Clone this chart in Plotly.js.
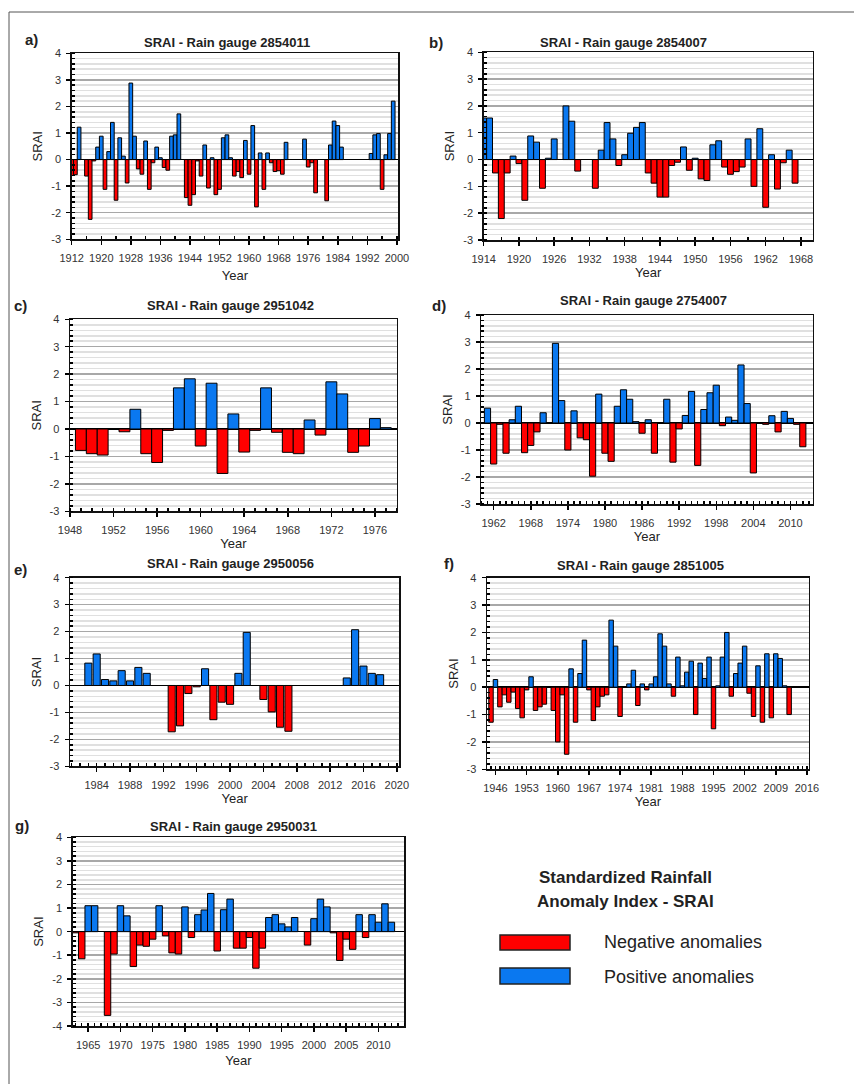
<!DOCTYPE html>
<html><head><meta charset="utf-8">
<script src="https://cdn.plot.ly/plotly-3.0.1.min.js"></script>
<style>html,body{margin:0;padding:0;background:#fff;}#chart{width:854px;height:1084px;}</style>
</head><body><div id="chart"></div>
<script>
// ---------------- DATA ----------------
const gauges = ['2854011','2854007','2951042','2754007','2950056','2851005','2950031'];
const panelLetters = ['a)','b)','c)','d)','e)','f)','g)'];

const yearsA = [1912,1913,1914,1916,1917,1918,1919,1920,1921,1922,1923,1924,1925,1926,1927,1928,1929,1930,1931,1932,1933,1934,1935,1936,1937,1938,1939,1940,1941,
  1943,1944,1945,1946,1947,1948,1949,1950,1951,1952,1953,1954,1955,1956,1957,1958,1959,1960,1961,1962,1963,1964,1965,1966,1967,1968,1969,1970,
  1975,1976,1977,1978,1981,1982,1983,1984,1985,1993,1994,1995,1996,1997,1998,1999];
const sraiA = [-0.6,-0.57,1.22,-0.62,-2.25,-0.05,0.47,0.88,-1.12,0.3,1.4,-1.53,0.82,0.13,-0.88,2.88,0.88,-0.35,-0.55,0.7,-1.12,-0.12,0.47,0.07,-0.3,-0.4,0.88,0.93,1.72,
  -1.43,-1.72,-1.32,-0.05,-0.62,0.55,-1.07,0.07,-1.32,-1.12,0.82,0.93,0.07,-0.62,-0.45,-0.68,0.72,-0.55,1.28,-1.78,0.25,-1.12,0.25,-0.12,-0.45,-0.42,-0.55,0.65,
  0.77,-0.28,-0.12,-1.25,-1.55,0.55,1.45,1.28,0.47,0.23,0.93,0.98,-1.12,0.18,0.98,2.2];

const yearsB = [1914,1915,1916,1917,1918,1919,1920,1921,1922,1923,1924,1925,1926,1928,1929,1930,
  1933,1934,1935,1936,1937,1938,1939,1940,1941,1942,1943,1944,1945,1946,1947,1948,1949,1950,1951,1952,1953,1954,1955,1956,1957,1958,1959,1960,1961,1962,1963,1964,1965,1966,1967];
const sraiB = [1.55,1.55,-0.5,-2.2,-0.5,0.13,-0.15,-1.52,0.88,0.65,-1.07,0.05,0.77,2.0,1.43,-0.43,
  -1.07,0.35,1.38,0.77,-0.22,0.18,0.98,1.2,1.38,-0.5,-0.88,-1.4,-1.4,-0.22,-0.1,0.47,-0.4,0.05,-0.72,-0.78,0.55,0.7,-0.28,-0.55,-0.45,-0.28,0.77,-1.0,1.15,-1.78,0.18,-1.1,-0.12,0.35,-0.88];

const yearsC = [1949,1950,1951,1953,1954,1955,1956,1957,1958,1959,1960,1961,1962,1963,1964,1965,1966,1967,1968,1969,1970,1971,1972,1973,1974,1975,1976,1977];
const sraiC = [-0.78,-0.9,-0.95,-0.1,0.72,-0.9,-1.22,-0.05,1.5,1.83,-0.62,1.67,-1.62,0.55,-0.84,-0.05,1.5,-0.12,-0.85,-0.9,0.33,-0.22,1.72,1.28,-0.85,-0.62,0.38,0.05];

const yearsD = [1961,1962,1963,1964,1965,1966,1967,1968,1969,1970,
  1972,1973,1974,1975,1976,1977,1978,1979,1980,1981,1982,1983,1984,1985,1986,1987,1988,
  1990,1991,1992,1993,1994,1995,1996,1997,1998,1999,2000,2001,2002,2003,2004,
  2006,2007,2008,2009,2010,2011,2012];
const sraiD = [0.55,-1.52,-0.05,-1.12,0.12,0.62,-1.1,-0.83,-0.33,0.38,
  2.95,0.83,-1.0,0.45,-0.55,-0.62,-1.97,1.07,-1.12,-1.42,0.62,1.23,0.88,0.05,-0.38,0.12,-1.12,
  0.88,-1.45,-0.22,0.28,1.17,-1.57,0.5,1.12,1.4,-0.1,0.22,0.1,2.15,0.72,-1.85,
  -0.05,0.27,-0.33,0.43,0.17,-0.05,-0.88];

const yearsE = [1983,1984,1985,1986,1987,1988,1989,1990,
  1993,1994,1995,1996,1997,1998,1999,2000,2001,2002,
  2004,2005,2006,2007,2014,2015,2016,2017,2018];
const sraiE = [0.83,1.17,0.22,0.17,0.55,0.17,0.67,0.45,
  -1.72,-1.5,-0.3,-0.05,0.62,-1.27,-0.62,-0.7,0.45,1.97,
  -0.52,-0.98,-1.55,-1.7,0.28,2.07,0.72,0.45,0.4];

const yearsF = [1945,1946,1947,1948,1949,1950,1951,1952,1953,1954,1955,1956,1957,
  1959,1960,1961,1962,1963,1964,1965,1966,1967,1968,1969,1970,1971,1972,1973,1974,
  1976,1977,1978,1979,1980,1981,1982,1983,1984,1985,1986,1987,1988,1989,1990,1991,1992,1993,1994,1995,1996,1997,1998,1999,2000,2001,2002,2003,2004,2005,2006,2007,2008,2009,2010,2011,2012];
const sraiF = [-1.28,0.28,-0.72,-0.28,-0.55,-0.18,-0.78,-1.12,-0.1,0.38,-0.85,-0.72,-0.62,
  -0.85,-2.0,-0.28,-2.45,0.67,-1.28,0.5,1.72,-0.1,-1.22,-0.72,-0.33,-0.28,2.45,1.5,-1.07,
  0.12,0.62,-0.67,0.12,-0.1,0.12,0.38,1.95,1.5,0.12,-0.33,1.1,0.05,0.55,0.95,-1.0,0.88,0.32,1.1,-1.52,0.05,1.1,2.0,-0.33,0.5,0.88,1.5,-0.22,-1.07,0.78,-1.28,1.22,-1.12,1.22,1.05,0.05,-1.0];

const yearsG = [1963,1964,1965,1966,
  1968,1969,1970,1971,1972,1973,1974,1975,1976,1977,1978,1979,1980,1981,1982,1983,1984,1985,1986,1987,1988,1989,1990,1991,1992,1993,1994,1995,1996,1997,
  1999,2000,2001,2002,2003,2004,2005,2006,2007,2008,2009,2010,2011,2012];
const sraiG = [-0.05,-1.15,1.1,1.1,
  -3.55,-0.95,1.1,0.67,-1.48,-0.57,-0.62,-0.32,1.1,-0.18,-0.9,-0.95,1.05,-0.25,0.72,0.92,1.62,-0.82,0.93,1.38,-0.7,-0.7,-0.25,-1.55,-0.7,0.6,0.72,0.33,0.2,0.6,
  -0.57,0.55,1.38,1.05,-0.05,-1.22,-0.32,-0.75,0.72,-0.25,0.72,0.4,1.18,0.4];

const ticksA = [1912,1920,1928,1936,1944,1952,1960,1968,1976,1984,1992,2000];
const ticksB = [1914,1920,1926,1932,1938,1944,1950,1956,1962,1968];
const ticksC = [1948,1952,1956,1960,1964,1968,1972,1976];
const ticksD = [1962,1968,1974,1980,1986,1992,1998,2004,2010];
const ticksE = [1984,1988,1992,1996,2000,2004,2008,2012,2016,2020];
const ticksF = [1946,1953,1960,1967,1974,1981,1988,1995,2002,2009,2016];
const ticksG = [1965,1970,1975,1980,1985,1990,1995,2000,2005,2010];
const yTicks = [-3,-2,-1,0,1,2,3,4];
const yTicksG = [-4,-3,-2,-1,0,1,2,3,4];

const legendTitle = ['Standardized Rainfall','Anomaly Index - SRAI'];
const legendLabels = ['Negative anomalies','Positive anomalies'];

// ---------------- STYLE / POSITIONS ----------------
const W = 854, H = 1084;
const FONT = 'Arial, "Liberation Sans", Helvetica, sans-serif';
const RED = '#ff0000', BLUE = '#0a78f0';

const series = [
  {years:yearsA, vals:sraiA, ticks:ticksA, yt:yTicks},
  {years:yearsB, vals:sraiB, ticks:ticksB, yt:yTicks},
  {years:yearsC, vals:sraiC, ticks:ticksC, yt:yTicks},
  {years:yearsD, vals:sraiD, ticks:ticksD, yt:yTicks},
  {years:yearsE, vals:sraiE, ticks:ticksE, yt:yTicks},
  {years:yearsF, vals:sraiF, ticks:ticksF, yt:yTicks},
  {years:yearsG, vals:sraiG, ticks:ticksG, yt:yTicksG}
];
const boxes = [
  {x0:71.7, x1:398,   y0:53.3,  y1:239.3, xr:[1912,2000.3], yr:[-3,4], bw:1,    m0:1912, md:4, tx:226.7, ty:42.7, lx:23,  ly:40,  xs:8},
  {x0:483.7,x1:812.7, y0:52.3,  y1:240,   xr:[1914,1970],   yr:[-3,4], bw:1,    m0:1914, md:3, tx:623.7, ty:42.7, lx:427, ly:42,  xs:3},
  {x0:70,   x1:396.7, y0:319.3, y1:511.3, xr:[1948,1978],   yr:[-3,4], bw:1,    m0:1948, md:1, tx:230,   ty:305,  lx:12,  ly:305, xs:2},
  {x0:481.3,x1:812.7, y0:315,   y1:504,   xr:[1960,2013.6], yr:[-3,4], bw:1,    m0:1960, md:1, tx:643.7, ty:300.7,lx:430, ly:305, xs:2},
  {x0:70,   x1:399.3, y0:577.7, y1:766.3, xr:[1980.8,2020.3],yr:[-3,4],bw:0.85, m0:1980, md:1, tx:230,   ty:563,  lx:12,  ly:569, xs:3},
  {x0:487,  x1:808.7, y0:577.7, y1:769.3, xr:[1944.1,2016.4],yr:[-3,4],bw:1,    m0:1944, md:1, tx:640.3, ty:565,  lx:442, ly:564, xs:3},
  {x0:72.7, x1:404.3, y0:837.3, y1:1026,  xr:[1962.6,2014], yr:[-4,4], bw:1,    m0:1962, md:1, tx:233,   ty:826,  lx:13,  ly:825, xs:6}
];

const data = [];
const layout = {
  width:W, height:H, margin:{l:0,r:0,t:0,b:0},
  paper_bgcolor:'#ffffff', plot_bgcolor:'#ffffff',
  showlegend:false, barmode:'overlay',
  font:{family:FONT, color:'#222'},
  annotations:[], shapes:[]
};

series.forEach((s,i) => {
  const b = boxes[i];
  const sfx = i === 0 ? '' : String(i+1);
  const negX = [], negY = [], posX = [], posY = [];
  s.years.forEach((yr,k) => {
    if (s.vals[k] < 0) { negX.push(yr); negY.push(s.vals[k]); }
    else { posX.push(yr); posY.push(s.vals[k]); }
  });
  data.push({type:'bar', x:negX, y:negY, xaxis:'x'+sfx, yaxis:'y'+sfx, width:b.bw,
    marker:{color:RED, line:{color:'#000', width:1}}, name:legendLabels[0], hoverinfo:'skip'});
  data.push({type:'bar', x:posX, y:posY, xaxis:'x'+sfx, yaxis:'y'+sfx, width:b.bw,
    marker:{color:BLUE, line:{color:'#000', width:1}}, name:legendLabels[1], hoverinfo:'skip'});

  layout['xaxis'+sfx] = {
    domain:[b.x0/W, b.x1/W], range:b.xr, anchor:'y'+sfx,
    tickmode:'array', tickvals:s.ticks, ticktext:s.ticks.map(String),
    ticks:'outside', ticklen:4, tickcolor:'#000', tickwidth:1.5, ticklabelstandoff:4,
    showline:true, linecolor:'#111', linewidth:1.5, mirror:true,
    showgrid:false, zeroline:false,
    tickfont:{family:FONT, size:11, color:'#333'},
    minor:{tickmode:'linear', tick0:b.m0, dtick:b.md, ticks:'inside', ticklen:3, tickcolor:'#000', tickwidth:1.5, showgrid:false},
    title:{text:'Year', font:{family:FONT, size:13, color:'#222'}, standoff:b.xs}
  };
  layout['yaxis'+sfx] = {
    domain:[1-b.y1/H, 1-b.y0/H], range:b.yr, anchor:'x'+sfx,
    tickmode:'array', tickvals:s.yt, ticktext:s.yt.map(String),
    ticks:'outside', ticklen:4, tickcolor:'#000', tickwidth:1.5, ticklabelstandoff:3,
    showline:true, linecolor:'#111', linewidth:1.5, mirror:true,
    showgrid:true, gridcolor:'#a8a8a8', gridwidth:1.5,
    zeroline:true, zerolinecolor:'#000', zerolinewidth:1.5,
    minor:{tickmode:'linear', tick0:0, dtick:0.2, ticks:'inside', ticklen:3, tickcolor:'#000', tickwidth:1.5,
           showgrid:true, gridcolor:'#e0e0e0', gridwidth:1.5},
    tickfont:{family:FONT, size:11, color:'#333'},
    title:{text:'SRAI', font:{family:FONT, size:13, color:'#222'}, standoff:5}
  };

  layout.annotations.push({xref:'paper', yref:'paper', x:b.tx/W, y:1-b.ty/H, xanchor:'center', yanchor:'middle',
    showarrow:false, text:'<b>SRAI - Rain gauge ' + gauges[i] + '</b>', font:{family:FONT, size:13, color:'#222'}});
  layout.annotations.push({xref:'paper', yref:'paper', x:b.lx/W, y:1-b.ly/H, xanchor:'left', yanchor:'middle',
    showarrow:false, text:'<b>' + panelLetters[i] + '</b>', font:{family:FONT, size:15, color:'#222'}});
});

// legend block (custom, as in the reference)
layout.annotations.push({xref:'paper', yref:'paper', x:625/W, y:1-877/H, xanchor:'center', yanchor:'middle',
  showarrow:false, text:'<b>' + legendTitle[0] + '</b>', font:{family:FONT, size:17, color:'#222'}});
layout.annotations.push({xref:'paper', yref:'paper', x:625/W, y:1-901/H, xanchor:'center', yanchor:'middle',
  showarrow:false, text:'<b>' + legendTitle[1] + '</b>', font:{family:FONT, size:17, color:'#222'}});
layout.annotations.push({xref:'paper', yref:'paper', x:602/W, y:1-942/H, xanchor:'left', yanchor:'middle',
  showarrow:false, text:legendLabels[0], font:{family:FONT, size:18, color:'#222'}});
layout.annotations.push({xref:'paper', yref:'paper', x:602/W, y:1-977/H, xanchor:'left', yanchor:'middle',
  showarrow:false, text:legendLabels[1], font:{family:FONT, size:18, color:'#222'}});
layout.shapes.push({type:'rect', xref:'paper', yref:'paper', x0:500/W, x1:570/W, y0:1-950/H, y1:1-935/H,
  fillcolor:RED, line:{color:'#222', width:1.5}});
layout.shapes.push({type:'rect', xref:'paper', yref:'paper', x0:500/W, x1:570/W, y0:1-984/H, y1:1-968/H,
  fillcolor:BLUE, line:{color:'#222', width:1.5}});
// outer frame lines
layout.shapes.push({type:'line', xref:'paper', yref:'paper', x0:9/W, x1:1, y0:1-12/H, y1:1-12/H, line:{color:'#555', width:1}});
layout.shapes.push({type:'line', xref:'paper', yref:'paper', x0:9/W, x1:9/W, y0:1-12/H, y1:0, line:{color:'#555', width:1}});

Plotly.newPlot('chart', data, layout, {staticPlot:true, displayModeBar:false});
</script>
</body></html>
